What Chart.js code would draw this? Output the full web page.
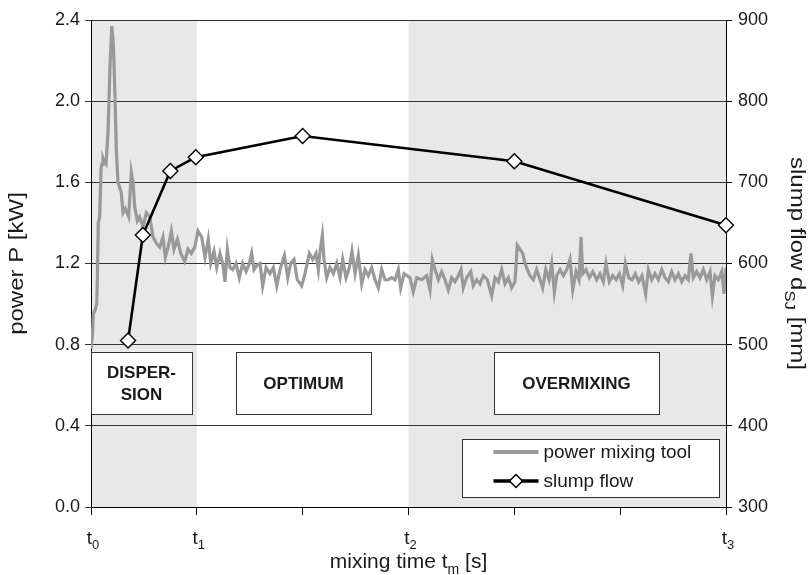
<!DOCTYPE html>
<html>
<head>
<meta charset="utf-8">
<script src="https://cdn.jsdelivr.net/npm/chart.js@4.4.1/dist/chart.umd.min.js"></script>
<style>
  body { margin: 0; background: #fff; }
  #wrap { width: 811px; height: 575px; position: relative; }
</style>
</head>
<body>
<div id="wrap"><canvas id="myChart"></canvas></div>
<script>
// mixing time in units where t0 = 0, t1 = 100, t2 = 300, t3 = 600
var powerTime = [
  0, 1.4, 2.2, 3.8, 5.4, 6.0, 6.9, 8.2, 9.5, 10.4,
  11.3, 12.8, 14.2, 16.1, 18.0, 19.6, 21.1, 22.7, 23.9, 25.5,
  28.6, 30.2, 32.4, 35.6, 38.1, 39.7, 41.3, 43.8, 46.0, 49.1,
  52.3, 55.5, 58.6, 61.7, 64.9, 68.0, 70.2, 72.8, 75.9, 78.4,
  81.6, 84.8, 88.5, 91.7, 94.8, 98.0, 101.1, 104.6, 107.7, 110.8,
  113.1, 116.2, 118.8, 121.9, 124.4, 126.6, 128.8, 131.3, 133.9, 137.0,
  140.1, 143.3, 146.5, 149.6, 151.8, 154.0, 156.6, 159.7, 162.2, 165.4,
  169.1, 172.3, 175.5, 178.6, 182.7, 185.9, 188.7, 191.8, 194.9, 199.1,
  202.2, 206.3, 209.5, 212.6, 214.8, 216.4, 218.6, 220.2, 222.7, 225.8,
  229.0, 232.2, 235.3, 237.8, 241.0, 244.1, 246.6, 249.5, 252.6, 255.8,
  258.9, 262.0, 265.2, 268.4, 271.5, 274.7, 277.8, 280.9, 284.1, 287.3,
  290.4, 292.6, 295.8, 301.4, 304.5, 307.8, 312.5, 317.2, 320.3, 322.5,
  325.1, 328.2, 331.4, 334.5, 337.6, 340.8, 343.9, 347.1, 349.6, 351.8,
  355.0, 358.8, 361.2, 364.5, 367.6, 370.7, 374.5, 378.6, 381.7, 384.9,
  388.1, 391.2, 394.3, 397.5, 400.6, 402.8, 405.4, 407.9, 410.1, 412.3,
  414.8, 417.9, 421.1, 424.3, 426.8, 429.7, 432.8, 435.3, 437.8, 440.0,
  443.2, 446.3, 449.5, 452.6, 455.2, 458.3, 461.1, 463.0, 464.6, 467.7,
  470.9, 474.1, 477.8, 481.0, 484.1, 486.6, 489.7, 493.0, 496.1, 499.2,
  502.4, 504.9, 508.1, 511.2, 514.3, 517.5, 520.6, 524.1, 526.6, 529.8,
  532.9, 536.1, 539.3, 542.4, 545.5, 548.7, 551.8, 555.0, 558.2, 561.3,
  564.4, 566.9, 569.1, 572.3, 575.5, 578.6, 581.8, 584.9, 587.1, 589.6,
  592.7, 596.0, 598.1, 600
];
var powerKW = [
  0.78, 0.85, 0.95, 0.97, 1.00, 1.12, 1.40, 1.43, 1.67, 1.69,
  1.72, 1.70, 1.69, 1.85, 2.18, 2.37, 2.29, 2.02, 1.76, 1.60,
  1.55, 1.45, 1.47, 1.43, 1.65, 1.60, 1.48, 1.41, 1.43, 1.38,
  1.45, 1.43, 1.33, 1.30, 1.28, 1.33, 1.23, 1.28, 1.36, 1.27,
  1.32, 1.25, 1.21, 1.27, 1.25, 1.28, 1.36, 1.33, 1.23, 1.32,
  1.20, 1.26, 1.18, 1.25, 1.20, 1.11, 1.27, 1.18, 1.17, 1.20,
  1.13, 1.20, 1.16, 1.20, 1.25, 1.17, 1.19, 1.20, 1.09, 1.18,
  1.15, 1.18, 1.09, 1.17, 1.24, 1.13, 1.20, 1.22, 1.12, 1.09,
  1.15, 1.25, 1.22, 1.25, 1.17, 1.26, 1.34, 1.22, 1.13, 1.18,
  1.15, 1.20, 1.13, 1.22, 1.13, 1.18, 1.26, 1.15, 1.24, 1.10,
  1.17, 1.14, 1.18, 1.12, 1.08, 1.17, 1.12, 1.12, 1.13, 1.12,
  1.17, 1.08, 1.15, 1.13, 1.06, 1.13, 1.12, 1.14, 1.07, 1.22,
  1.17, 1.12, 1.16, 1.12, 1.07, 1.13, 1.11, 1.14, 1.17, 1.08,
  1.13, 1.16, 1.09, 1.12, 1.10, 1.14, 1.12, 1.04, 1.13, 1.11,
  1.17, 1.10, 1.13, 1.08, 1.11, 1.29, 1.27, 1.25, 1.20, 1.17,
  1.14, 1.12, 1.17, 1.12, 1.08, 1.17, 1.12, 1.20, 1.06, 1.14,
  1.17, 1.14, 1.17, 1.22, 1.07, 1.16, 1.12, 1.33, 1.15, 1.17,
  1.13, 1.16, 1.12, 1.15, 1.11, 1.20, 1.11, 1.14, 1.12, 1.15,
  1.09, 1.20, 1.13, 1.12, 1.15, 1.11, 1.14, 1.05, 1.17, 1.12,
  1.15, 1.12, 1.17, 1.13, 1.11, 1.16, 1.12, 1.15, 1.11, 1.14,
  1.12, 1.25, 1.13, 1.16, 1.13, 1.17, 1.12, 1.16, 1.04, 1.14,
  1.12, 1.16, 1.05, 1.18
];
var slumpTime = [35, 49, 75, 99, 200, 400, 600];
var slumpMM = [505, 635, 714, 731, 757, 726, 647];

var tickTimes = [0, 100, 300, 600];
var tickSubs = ["0", "1", "2", "3"];
var phaseNames = [["DISPER-", "SION"], ["OPTIMUM"], ["OVERMIXING"]];
var legendNames = ["power mixing tool", "slump flow"];

// layout / style
var FONT = "'Liberation Sans', Arial, sans-serif";
var greyLine = "#999999";
var shade = "#e8e8e8";
var shadedSpans = [[0, 100], [300, 600]];
var phaseBoxes = [[0, 95.5, 0.765, 0.458], [137, 264.5, 0.765, 0.458], [381, 536.5, 0.765, 0.458]];
var legendBox = [351, 593.5, 0.335, 0.049];

// text with subscripts, centred on x, baseline y; stretch scales along the text
function richText(ctx, parts, x, y, size, bold, stretch) {
  stretch = stretch || 1;
  var w = 0;
  var fMain = (bold ? "bold " : "") + size + "px " + FONT;
  var fSub = (bold ? "bold " : "") + Math.round(size * 0.68) + "px " + FONT;
  parts.forEach(function (p) { ctx.font = p[1] ? fSub : fMain; w += ctx.measureText(p[0]).width; });
  ctx.save();
  ctx.translate(x, y);
  ctx.scale(stretch, 1);
  var cx = -w / 2;
  ctx.textAlign = "left";
  ctx.textBaseline = "alphabetic";
  parts.forEach(function (p) {
    ctx.font = p[1] ? fSub : fMain;
    ctx.fillText(p[0], cx, p[1] ? size * 0.28 : 0);
    cx += ctx.measureText(p[0]).width;
  });
  ctx.restore();
}

var shadePlugin = {
  id: "shade",
  beforeDraw: function (chart) {
    var ctx = chart.ctx, a = chart.chartArea, x = chart.scales.x;
    ctx.save();
    ctx.fillStyle = shade;
    shadedSpans.forEach(function (s) {
      var l = x.getPixelForValue(s[0]), r = x.getPixelForValue(s[1]);
      ctx.fillRect(l, a.top, r - l, a.bottom - a.top);
    });
    ctx.restore();
  }
};

var labelPlugin = {
  id: "labels",
  afterDraw: function (chart) {
    var ctx = chart.ctx, a = chart.chartArea, x = chart.scales.x, y = chart.scales.y;
    ctx.save();
    ctx.fillStyle = "#1a1a1a";

    // phase boxes
    phaseBoxes.forEach(function (b, i) {
      var l = x.getPixelForValue(b[0]), r = x.getPixelForValue(b[1]);
      var t = y.getPixelForValue(b[2]), btm = y.getPixelForValue(b[3]);
      ctx.fillStyle = "#fff";
      ctx.fillRect(l, t, r - l, btm - t);
      ctx.strokeStyle = "#333";
      ctx.lineWidth = 1;
      ctx.strokeRect(Math.round(l) + 0.5, Math.round(t) + 0.5, Math.round(r - l), Math.round(btm - t));
      ctx.fillStyle = "#1a1a1a";
      var lines = phaseNames[i];
      var mid = (t + btm) / 2;
      lines.forEach(function (s, k) {
        var yy = mid + 6 + (k - (lines.length - 1) / 2) * 22;
        richText(ctx, [[s, false]], (l + r) / 2, yy, 17, true);
      });
    });

    // legend
    var ll = x.getPixelForValue(legendBox[0]), lr = x.getPixelForValue(legendBox[1]);
    var lt = y.getPixelForValue(legendBox[2]), lb = y.getPixelForValue(legendBox[3]);
    ctx.fillStyle = "#fff";
    ctx.fillRect(ll, lt, lr - ll, lb - lt);
    ctx.strokeStyle = "#333";
    ctx.lineWidth = 1;
    ctx.strokeRect(Math.round(ll) + 0.5, Math.round(lt) + 0.5, Math.round(lr - ll), Math.round(lb - lt));
    var rowY = [lt + 13, lt + 42];
    var sx0 = ll + 31, sx1 = ll + 76;
    var ds = chart.data.datasets;
    ctx.lineCap = "butt";
    ctx.strokeStyle = ds[0].borderColor;
    ctx.lineWidth = 4;
    ctx.beginPath(); ctx.moveTo(sx0, rowY[0]); ctx.lineTo(sx1, rowY[0]); ctx.stroke();
    ctx.strokeStyle = ds[1].borderColor;
    ctx.lineWidth = 3.5;
    ctx.beginPath(); ctx.moveTo(sx0, rowY[1]); ctx.lineTo(sx1, rowY[1]); ctx.stroke();
    var mx = (sx0 + sx1) / 2, r = 6.5;
    ctx.fillStyle = "#fff";
    ctx.lineWidth = 1.5;
    ctx.beginPath();
    ctx.moveTo(mx - r, rowY[1]); ctx.lineTo(mx, rowY[1] - r); ctx.lineTo(mx + r, rowY[1]); ctx.lineTo(mx, rowY[1] + r);
    ctx.closePath(); ctx.fill(); ctx.stroke();
    ctx.fillStyle = "#1a1a1a";
    ctx.font = "19px " + FONT;
    ctx.textAlign = "left";
    ctx.textBaseline = "middle";
    legendNames.forEach(function (s, i) { ctx.fillText(s, sx1 + 5, rowY[i] + 1); });

    // x tick labels
    tickTimes.forEach(function (v, i) {
      richText(ctx, [["t", false], [tickSubs[i], true]], x.getPixelForValue(v) + 2, a.bottom + 37, 19, false);
    });
    // axis titles
    richText(ctx, [["mixing time t", false], ["m", true], [" [s]", false]], (a.left + a.right) / 2, a.bottom + 61, 21, false);
    var cy = (a.top + a.bottom) / 2;
    ctx.save();
    ctx.translate(23, cy);
    ctx.rotate(-Math.PI / 2);
    richText(ctx, [["power P [kW]", false]], 0, 0, 20, false, 1.2);
    ctx.restore();
    ctx.save();
    ctx.translate(791, cy);
    ctx.rotate(Math.PI / 2);
    richText(ctx, [["slump flow d", false], ["SJ", true], [" [mm]", false]], 0, 0, 20, false, 1.2);
    ctx.restore();

    ctx.restore();
  }
};

new Chart("myChart", {
  type: "line",
  data: {
    datasets: [{
      label: legendNames[0],
      data: powerTime.map(function (t, i) { return { x: t, y: powerKW[i] }; }),
      yAxisID: "y",
      borderColor: greyLine,
      borderWidth: 3.2,
      pointRadius: 0,
      tension: 0,
      order: 2
    }, {
      label: legendNames[1],
      data: slumpTime.map(function (t, i) { return { x: t, y: slumpMM[i] }; }),
      yAxisID: "y2",
      borderColor: "#000",
      borderWidth: 2.6,
      pointStyle: "rectRot",
      pointRadius: 7.5,
      pointBackgroundColor: "#fff",
      pointBorderColor: "#000",
      pointBorderWidth: 1.4,
      tension: 0,
      clip: false,
      order: 1
    }]
  },
  options: {
    responsive: true,
    maintainAspectRatio: false,
    animation: false,
    layout: { padding: { top: 20, left: 0, right: 0, bottom: 0 } },
    plugins: { legend: { display: false }, tooltip: { enabled: false } },
    scales: {
      x: {
        type: "linear",
        min: 0, max: 600,
        ticks: { display: false, stepSize: 100 },
        grid: { drawOnChartArea: false, drawTicks: true, tickLength: 8, color: "#000" },
        border: { color: "#000", width: 1 },
        afterFit: function (s) { s.height = 68; }
      },
      y: {
        position: "left",
        min: 0, max: 2.4,
        ticks: {
          stepSize: 0.4, padding: 5, color: "#1a1a1a",
          font: { family: FONT, size: 18 },
          callback: function (v) { return v.toFixed(1); }
        },
        grid: { color: "#333", lineWidth: 1, tickLength: 6 },
        border: { color: "#000", width: 1 },
        afterFit: function (s) { s.width = 91; }
      },
      y2: {
        position: "right",
        min: 300, max: 900,
        ticks: { stepSize: 100, padding: 6, color: "#1a1a1a", font: { family: FONT, size: 18 } },
        grid: { drawOnChartArea: false, color: "#000", tickLength: 6 },
        border: { color: "#000", width: 1 },
        afterFit: function (s) { s.width = 85; }
      }
    }
  },
  plugins: [shadePlugin, labelPlugin]
});
</script>
</body>
</html>
